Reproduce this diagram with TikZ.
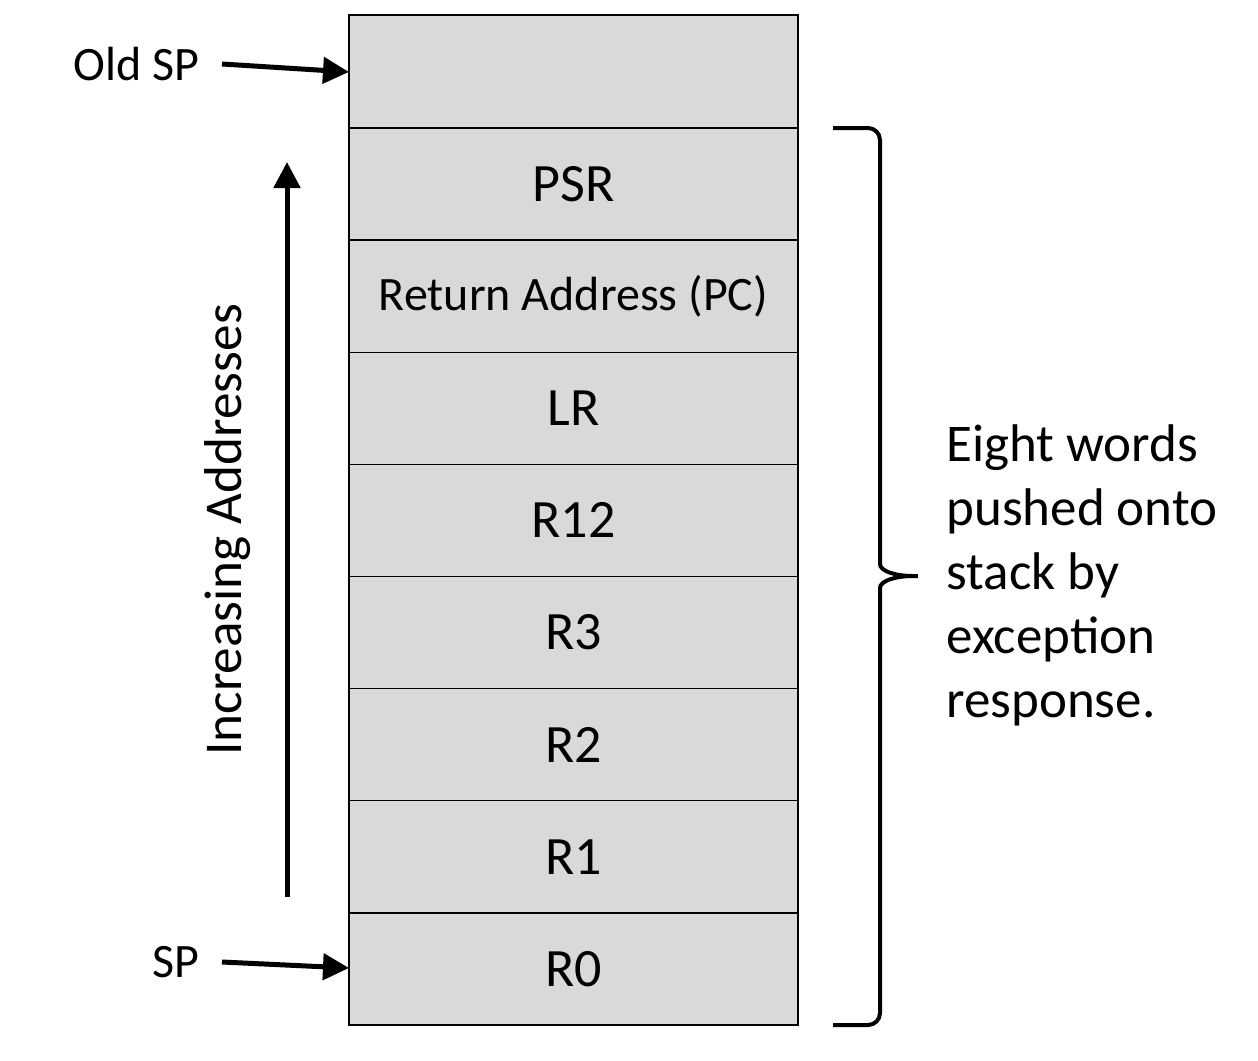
\documentclass[tikz,border=0pt]{standalone}
\usepackage{fontspec}
\setmainfont{Carlito}
\usetikzlibrary{arrows.meta, positioning}
\definecolor{cellgray}{HTML}{D9D9D9}

\tikzset{
	cell/.style={draw, fill=cellgray, line width=0.7pt, outer sep=0pt, minimum width=224.5pt, minimum height=56.06pt, inner sep=0pt, font=\fontsize{27}{32}\selectfont},
	pointer/.style={line width=2.5pt, -{Triangle[length=13pt,width=13pt]}},
	lbl/.style={font=\fontsize{24}{29}\selectfont, inner sep=0pt}
}

\begin{document}
\begin{tikzpicture}[x=0.5pt, y=-0.5pt]
		\useasboundingbox (0,0) rectangle (1258,1060);
		\node[cell, anchor=north west, minimum height=56.5pt] (old) at (349,15) {};
		\node[cell, below=0pt of old] (psr) {PSR};
		\node[cell, below=0pt of psr, font=\fontsize{24}{29}\selectfont] (pc) {Return Address (PC)};
		\node[cell, below=0pt of pc] (lr) {LR};
		\node[cell, below=0pt of lr] (r12) {R12};
		\node[cell, below=0pt of r12] (r3) {R3};
		\node[cell, below=0pt of r3] (r2) {R2};
		\node[cell, below=0pt of r2] (r1) {R1};
		\node[cell, below=0pt of r1] (r0) {R0};
		\draw[line width=1.1pt] (old.south west) -- (old.south east);
		
		% pointers
		\node[lbl, anchor=east] (oldsp) at (200,64) {Old SP};
		\node[lbl, anchor=east] (sp) at (200,962) {SP};
		\coordinate (oldsptip) at (349,72);
		\coordinate (sptip) at (349,968);
		\draw[pointer] (222,64) -- (oldsptip);
		\draw[pointer] (222,962) -- (sptip);
		
		% address direction
		\coordinate (addrlow) at (287,897);
		\coordinate (addrhigh) at (287,162);
		\draw[pointer] (addrlow) -- (addrhigh);
		\node[lbl, rotate=90, font=\fontsize{26.6}{31}\selectfont] (incr) at (228,530) {Increasing Addresses};
		
		% brace
		\draw[line width=2pt, rounded corners=6pt] (833,128) -- (880,128) -- (880,552)
			.. controls (880,571) and (895,576) .. (925,576)
			.. controls (895,576) and (880,581) .. (880,600) -- (880,1025) -- (833,1025);
		\node[lbl, anchor=west, align=left, font=\fontsize{26.5}{32}\selectfont] (note) at (946,575) {Eight words\\pushed onto\\stack by\\exception\\response.};
	\end{tikzpicture}
\end{document}
